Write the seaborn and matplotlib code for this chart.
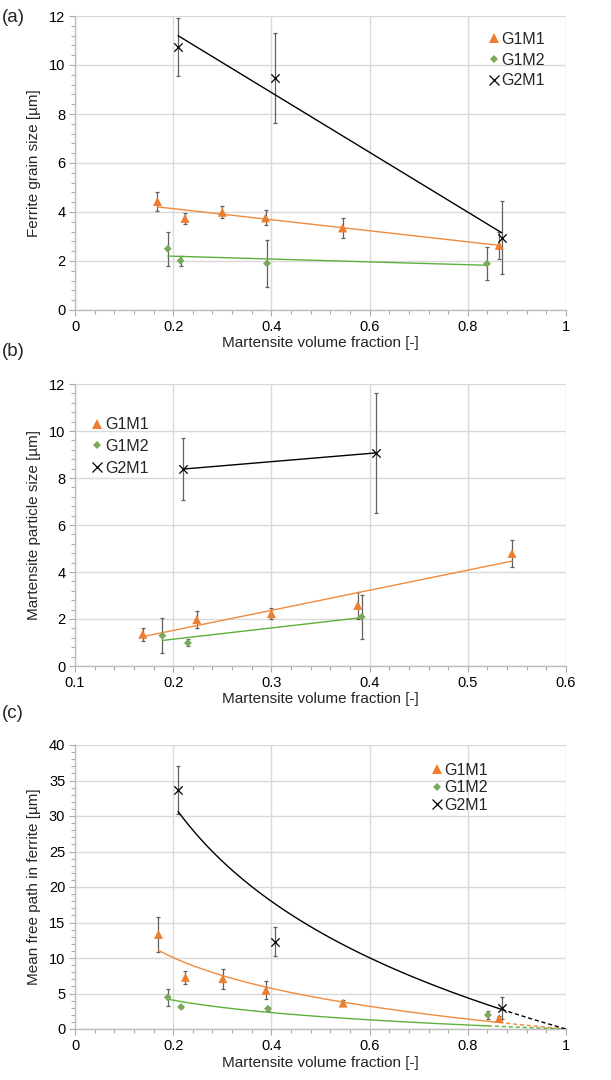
import numpy as np
import pandas as pd
import matplotlib
matplotlib.use("Agg")
import matplotlib.pyplot as plt
import seaborn as sns
from matplotlib.ticker import MultipleLocator, AutoMinorLocator, FuncFormatter
from matplotlib.lines import Line2D

sns.set_theme(style="white")
plt.rcParams["font.family"] = ["Liberation Sans", "DejaVu Sans"]

series = ["G1M1", "G1M2", "G2M1"]

# ---- panel (a): ferrite grain size ----
a_x_G1M1 = [0.168, 0.224, 0.300, 0.388, 0.545, 0.864]
a_y_G1M1 = [4.43, 3.74, 3.99, 3.76, 3.35, 2.64]
a_e_G1M1 = [0.40, 0.23, 0.24, 0.31, 0.41, 0.55]
a_x_G1M2 = [0.189, 0.215, 0.391, 0.839]
a_y_G1M2 = [2.50, 2.01, 1.90, 1.89]
a_e_G1M2 = [0.69, 0.20, 0.96, 0.67]
a_x_G2M1 = [0.210, 0.407, 0.869]
a_y_G2M1 = [10.72, 9.47, 2.95]
a_e_G2M1 = [1.18, 1.85, 1.50]

# ---- panel (b): martensite particle size ----
b_x_G1M1 = [0.169, 0.224, 0.300, 0.388, 0.545]
b_y_G1M1 = [1.35, 1.97, 2.23, 2.58, 4.79]
b_e_G1M1 = [0.28, 0.37, 0.25, 0.57, 0.58]
b_x_G1M2 = [0.189, 0.215, 0.392]
b_y_G1M2 = [1.29, 0.98, 2.09]
b_e_G1M2 = [0.75, 0.15, 0.92]
b_x_G2M1 = [0.210, 0.407]
b_y_G2M1 = [8.38, 9.07]
b_e_G2M1 = [1.31, 2.55]

# ---- panel (c): mean free path in ferrite ----
c_x_G1M1 = [0.170, 0.225, 0.301, 0.389, 0.546, 0.864]
c_y_G1M1 = [13.33, 7.28, 7.09, 5.45, 3.66, 1.50]
c_e_G1M1 = [2.50, 0.90, 1.40, 1.25, 0.42, 0.40]
c_x_G1M2 = [0.189, 0.216, 0.393, 0.841]
c_y_G1M2 = [4.46, 3.10, 2.86, 1.97]
c_e_G1M2 = [1.17, 0.20, 0.30, 0.60]
c_x_G2M1 = [0.210, 0.408, 0.869]
c_y_G2M1 = [33.66, 12.30, 2.91]
c_e_G2M1 = [3.43, 2.04, 1.55]

xlabel = "Martensite volume fraction [-]"
ylabels = ["Ferrite grain size [µm]", "Martensite particle size [µm]",
           "Mean free path in ferrite [µm]"]
panel_tags = ["(a)", "(b)", "(c)"]

marker_col = {"G1M1": "#ED7D31", "G1M2": "#7BA85A", "G2M1": "black"}
line_col = {"G1M1": "#F08A3C", "G1M2": "#5DB13A", "G2M1": "black"}
markers = {"G1M1": "^", "G1M2": "D", "G2M1": "x"}
msize = {"G1M1": 42, "G1M2": 16, "G2M1": 36}
err_col = "#606060"

fig = plt.figure(figsize=(6.11, 10.8), dpi=100)
W, H = 611, 1080
def box(l, r, t, b):
    return [l / W, 1 - b / H, (r - l) / W, (b - t) / H]

axes = [fig.add_axes(box(75, 566, 16, 310)),
        fig.add_axes(box(75, 566, 384, 666)),
        fig.add_axes(box(75, 566, 745, 1029))]

data = {
    0: {"G1M1": (a_x_G1M1, a_y_G1M1, a_e_G1M1), "G1M2": (a_x_G1M2, a_y_G1M2, a_e_G1M2),
        "G2M1": (a_x_G2M1, a_y_G2M1, a_e_G2M1)},
    1: {"G1M1": (b_x_G1M1, b_y_G1M1, b_e_G1M1), "G1M2": (b_x_G1M2, b_y_G1M2, b_e_G1M2),
        "G2M1": (b_x_G2M1, b_y_G2M1, b_e_G2M1)},
    2: {"G1M1": (c_x_G1M1, c_y_G1M1, c_e_G1M1), "G1M2": (c_x_G1M2, c_y_G1M2, c_e_G1M2),
        "G2M1": (c_x_G2M1, c_y_G2M1, c_e_G2M1)},
}

fmt = FuncFormatter(lambda v, p: f"{v:g}")

for i, ax in enumerate(axes):
    for s in series:
        x, y, e = (np.array(v, dtype=float) for v in data[i][s])
        # trend line
        if i < 2:
            k, c0 = np.polyfit(x, y, 1)
            xx = np.array([x.min(), x.max()])
            sns.lineplot(x=xx, y=k * xx + c0, ax=ax, color=line_col[s], lw=1.0, zorder=3)
        else:
            L = -np.log(x)
            a = np.sum(y * L) / np.sum(L * L)
            xx = np.linspace(x.min(), x.max(), 200)
            sns.lineplot(x=xx, y=-a * np.log(xx), ax=ax, color=line_col[s], lw=1.0, zorder=3)
            xd = np.linspace(x.max(), 1.0, 50)
            ax.plot(xd, -a * np.log(xd), color=line_col[s], lw=1.0, ls=(0, (3, 2)), zorder=3)
        ax.errorbar(x, y, yerr=e, fmt="none", ecolor=err_col, elinewidth=0.9,
                    capsize=1.5, capthick=0.9, zorder=2)
        if markers[s] == "x":
            sns.scatterplot(x=x, y=y, ax=ax, marker="x", s=msize[s], color="black",
                            linewidth=0.9, zorder=4)
        else:
            sns.scatterplot(x=x, y=y, ax=ax, marker=markers[s], s=msize[s],
                            color=marker_col[s], edgecolor="none", linewidth=0, zorder=4)

    if i == 1:
        ax.set_xlim(0.1, 0.6)
        ax.xaxis.set_major_locator(MultipleLocator(0.1))
        ax.set_ylim(0, 12)
        ax.yaxis.set_major_locator(MultipleLocator(2))
    elif i == 0:
        ax.set_xlim(0, 1)
        ax.xaxis.set_major_locator(MultipleLocator(0.2))
        ax.set_ylim(0, 12)
        ax.yaxis.set_major_locator(MultipleLocator(2))
    else:
        ax.set_xlim(0, 1)
        ax.xaxis.set_major_locator(MultipleLocator(0.2))
        ax.set_ylim(0, 40)
        ax.yaxis.set_major_locator(MultipleLocator(5))
    ax.xaxis.set_minor_locator(AutoMinorLocator(5))
    ax.yaxis.set_minor_locator(AutoMinorLocator(5))
    ax.xaxis.set_major_formatter(fmt)
    ax.yaxis.set_major_formatter(fmt)
    ax.grid(True, which="major", color="#d9d9d9", lw=1.0)
    ax.set_axisbelow(True)
    for sp in ["top", "right"]:
        ax.spines[sp].set_visible(False)
    for sp in ["left", "bottom"]:
        ax.spines[sp].set_color("#bdbdbd")
        ax.spines[sp].set_linewidth(1.0)
    ax.tick_params(which="major", direction="out", length=4, width=0.8, color="#aaaaaa",
                   labelsize=10.5, labelcolor="black", pad=3)
    ax.tick_params(which="minor", direction="out", length=3, width=0.8, color="#aaaaaa")
    ax.tick_params(axis="both", which="both", bottom=True, left=True)
    ax.set_xlabel(xlabel, fontsize=11, labelpad=2)
    ax.set_ylabel(ylabels[i], fontsize=11, labelpad=6)

    handles = []
    for s in series:
        if markers[s] == "x":
            h = Line2D([], [], ls="none", marker="x", color="black", markersize=6.5, mew=0.9)
        else:
            h = Line2D([], [], ls="none", marker=markers[s], color=marker_col[s],
                       markersize=7 if s == "G1M1" else 4, mew=0)
        handles.append(h)
    leg_loc = {0: (0.828, 0.968), 1: (0.02, 0.905), 2: (0.712, 0.959)}[i]
    leg_sp = {0: 0.36, 1: 0.42, 2: 0.14}[i]
    ax.legend(handles, series, loc="upper left", bbox_to_anchor=leg_loc, frameon=False,
              fontsize=11.5, handlelength=0.7, handletextpad=0.15, labelspacing=leg_sp,
              borderaxespad=0)

tag_y = [18, 352, 713]
for t, ty in zip(panel_tags, tag_y):
    fig.text(2 / W, 1 - ty / H, t, fontsize=13.5, va="center", ha="left")

fig.savefig("out.png", dpi=100)
